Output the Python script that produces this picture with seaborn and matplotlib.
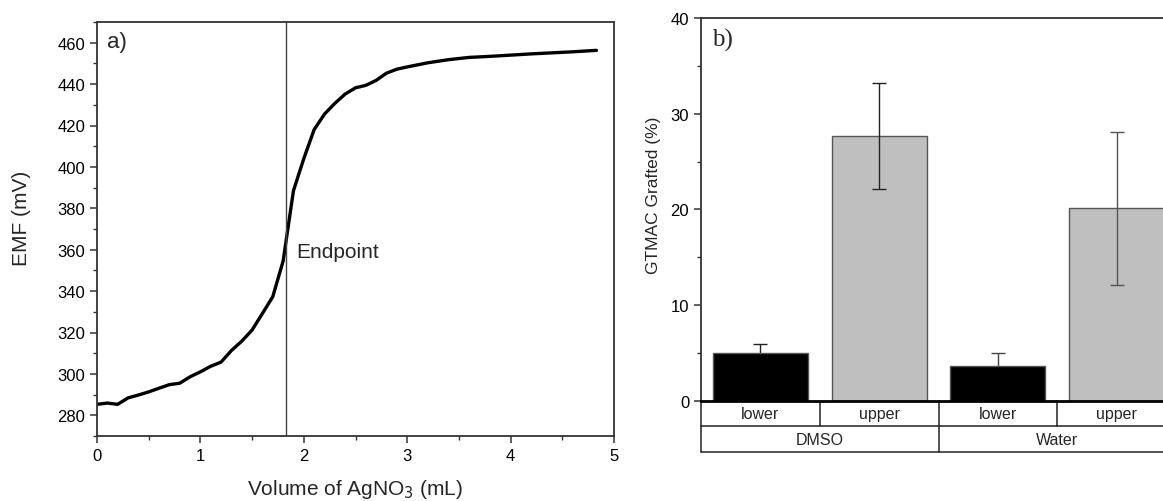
import numpy as np
import pandas as pd
import matplotlib
matplotlib.use("Agg")
import matplotlib.pyplot as plt
from matplotlib.ticker import MultipleLocator
import seaborn as sns

# ---------------- data ----------------
volume_ml = [0.0, 0.1, 0.2, 0.3, 0.4, 0.5, 0.6, 0.7, 0.8, 0.9, 1.0, 1.1, 1.2, 1.3, 1.4,
             1.5, 1.6, 1.7, 1.8, 1.9, 2.0, 2.1, 2.2, 2.3, 2.4, 2.5, 2.6, 2.7, 2.8, 2.9,
             3.0, 3.2, 3.4, 3.6, 3.8, 4.0, 4.2, 4.4, 4.6, 4.83]
emf_mv = [285.3, 285.9, 285.3, 288.4, 289.8, 291.3, 293.1, 294.8, 295.5, 298.6, 301.0,
          303.7, 305.7, 311.3, 315.8, 321.2, 329.2, 337.3, 354.5, 388.5, 404.0, 418.0,
          425.5, 430.7, 435.2, 438.2, 439.4, 441.8, 445.3, 447.2, 448.3, 450.3, 451.8,
          452.9, 453.4, 454.0, 454.6, 455.1, 455.6, 456.3]
endpoint_ml = 1.825

solvents = ["DMSO", "DMSO", "Water", "Water"]
phases = ["lower", "upper", "lower", "upper"]
grafted = [4.95, 27.7, 3.6, 20.1]
grafted_err = [0.95, 5.55, 1.4, 8.0]

# ---------------- style ----------------
sns.set_style("ticks")
plt.rcParams["font.family"] = ["Liberation Sans", "DejaVu Sans"]
plt.rcParams["axes.edgecolor"] = "#333333"
plt.rcParams["xtick.color"] = "#333333"
plt.rcParams["ytick.color"] = "#333333"
plt.rcParams["xtick.labelcolor"] = "black"
plt.rcParams["ytick.labelcolor"] = "black"

W, H = 1163, 502
fig = plt.figure(figsize=(W / 100, H / 100), dpi=100)

# ---------------- panel a ----------------
ax1 = fig.add_axes([97 / W, 1 - 437 / H, 517 / W, 414 / H])
sns.lineplot(x=volume_ml, y=emf_mv, ax=ax1, color="black", lw=2.4,
             estimator=None, sort=False)
ax1.axvline(endpoint_ml, color="#444444", lw=1.0)
ax1.set_xlim(0, 5)
ax1.set_ylim(270, 470)
ax1.xaxis.set_major_locator(MultipleLocator(1))
ax1.xaxis.set_minor_locator(MultipleLocator(0.5))
ax1.yaxis.set_major_locator(MultipleLocator(20))
ax1.yaxis.set_minor_locator(MultipleLocator(10))
ax1.tick_params(which="major", direction="out", length=5, width=1.1, labelsize=12)
ax1.tick_params(which="minor", direction="out", length=3, width=1.0)
for s in ax1.spines.values():
    s.set_linewidth(1.3)
ax1.set_xlabel("Volume of AgNO$_3$ (mL)", fontsize=15, labelpad=10)
ax1.set_ylabel("EMF (mV)", fontsize=15)
ax1.yaxis.set_label_coords(-0.127, 0.527)
ax1.text(1.925, 359, "Endpoint", fontsize=15, ha="left", va="center")
ax1.text(0.019, 0.952, "a)", transform=ax1.transAxes, fontsize=16,
         ha="left", va="center")

# ---------------- panel b ----------------
df = pd.DataFrame({"solvent": solvents, "phase": phases,
                   "grafted": grafted, "err": grafted_err})
df["cat"] = [f"{s} {p}" for s, p in zip(solvents, phases)]
colors = {"lower": "black", "upper": "#bfbfbf"}
pal = {c: colors[p] for c, p in zip(df["cat"], df["phase"])}

ax2 = fig.add_axes([701 / W, 1 - 401.7 / H, 475 / W, 382.7 / H])
sns.barplot(data=df, x="cat", y="grafted", hue="cat", palette=pal, legend=False,
            width=0.8, errorbar=None, ax=ax2, edgecolor="#555555", linewidth=1.0)
for p in ax2.patches:
    p.set_zorder(2)
err_cols = ["#222222", "#222222", "#444444", "#555555"]
for i, (v, e) in enumerate(zip(grafted, grafted_err)):
    z = 1 if phases[i] == "lower" else 3
    ax2.errorbar(i, v, yerr=e, color=err_cols[i], capsize=5, lw=1.0, capthick=1.0,
                 zorder=z)

ax2.set_xlim(-0.5, 3.5)
ax2.set_ylim(0, 40)
ax2.yaxis.set_major_locator(MultipleLocator(10))
ax2.yaxis.set_minor_locator(MultipleLocator(5))
ax2.tick_params(axis="y", which="major", direction="out", length=5, width=1.1, labelsize=12)
ax2.tick_params(axis="y", which="minor", direction="out", length=3, width=1.0)
ax2.set_xticks([])
ax2.set_xlabel("")
ax2.set_ylabel("GTMAC Grafted (%)", fontsize=12.5)
ax2.yaxis.set_label_coords(-0.085, 0.54)
for s in ax2.spines.values():
    s.set_linewidth(1.3)
ax2.spines["bottom"].set_linewidth(2.0)
ax2.spines["bottom"].set_color("black")
ax2.spines["bottom"].set_zorder(4)
ax2.text(0.023, 0.945, "b)", transform=ax2.transAxes, fontsize=18,
         family=["Liberation Serif", "DejaVu Serif"], ha="left", va="center")

# category table below panel b
row1 = -2.675
row2 = -5.39
lc = "#222222"
lo, hi = -0.5, len(grafted) - 0.5
ax2.plot([lo, hi], [row1, row1], color=lc, lw=1.1, clip_on=False)
ax2.plot([lo, hi], [row2, row2], color=lc, lw=1.1, clip_on=False)
for i in range(len(grafted) + 1):
    b = i - 0.5
    bottom = row2 if i % 2 == 0 else row1
    ax2.plot([b, b], [0, bottom], color=lc, lw=1.1, clip_on=False)
for i, p in enumerate(phases):
    ax2.text(i, row1 / 2, p, ha="center", va="center", fontsize=11.5, clip_on=False)
for j, s in enumerate(["DMSO", "Water"]):
    ax2.text(2 * j + 0.5, (row1 + row2) / 2, s, ha="center", va="center",
             fontsize=11.5, clip_on=False)

fig.savefig("out.png", dpi=100)
